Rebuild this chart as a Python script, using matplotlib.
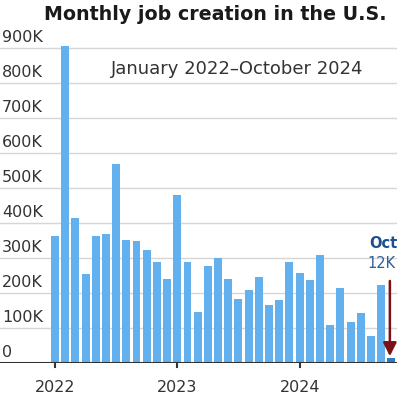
import matplotlib
matplotlib.use("Agg")
import matplotlib.pyplot as plt
from matplotlib.transforms import blended_transform_factory

# monthly job gains, Jan 2022 - Oct 2024 (thousands)
jobs_2022 = [362, 904, 412, 253, 362, 368, 566, 350, 348, 322, 288, 238]
jobs_2023 = [478, 286, 144, 277, 300, 238, 182, 208, 244, 163, 180, 288]
jobs_2024 = [255, 235, 308, 106, 214, 117, 141, 77, 221, 12]
jobs = [v * 1000 for v in jobs_2022 + jobs_2023 + jobs_2024]

year_labels = ["2022", "2023", "2024"]
year_pos = [0, 12, 24]
y_ticks = [0, 100000, 200000, 300000, 400000, 500000, 600000, 700000, 800000, 900000]
y_labels = ["0", "100K", "200K", "300K", "400K", "500K", "600K", "700K", "800K", "900K"]

title = "Monthly job creation in the U.S."
subtitle = "January 2022\u2013October 2024"

plt.rcParams["font.family"] = ["DejaVu Sans"]

W, H = 400, 396
fig = plt.figure(figsize=(W / 100, H / 100), dpi=100)
ax = fig.add_axes([0, (H - 362.5) / H, 397 / W, (362.5 - 30) / H])

x = list(range(len(jobs)))
colors = ["#63b0ee"] * (len(jobs) - 1) + ["#2d7cc4"]
ax.bar(x, jobs, width=0.78, color=colors, zorder=2)

ax.set_xlim(-5.39, 33.55)
ax.set_ylim(0, 950000)

for s in ax.spines.values():
    s.set_visible(False)
ax.set_yticks([])
ax.set_xticks([])

# gridlines + labels sitting above them
for v in y_ticks[1:]:
    ax.axhline(v, color="#d6d6d6", lw=1.0, zorder=1)
trans = blended_transform_factory(fig.transFigure, ax.transData)
for v, lab in zip(y_ticks, y_labels):
    ax.text(2 / W, v + 8000, lab, transform=trans, ha="left", va="bottom",
            fontsize=11.5, color="#333333", zorder=3)

# baseline and year ticks
ax.axhline(0, color="#333333", lw=1.5, zorder=3)
for p, lab in zip(year_pos, year_labels):
    ax.plot([p, p], [0, -14000], color="#333333", lw=1.5, clip_on=False, zorder=3)
    ax.text(p, -50000, lab, ha="center", va="top", fontsize=11.5, color="#333333")

fig.text(215 / W, 1 - 15 / H, title, ha="center", va="center",
         fontsize=13.7, fontweight="bold", color="#1a1a1a")
ax.text(237 / 397, 1 - (69 - 30) / (362.5 - 30), subtitle, transform=ax.transAxes,
        ha="center", va="center", fontsize=13, color="#333333")

# October callout
last = len(jobs) - 1
fig.text(398 / W, 1 - 243 / H, "Oct", ha="right", va="center",
         fontsize=10.5, fontweight="bold", color="#1d4f91")
fig.text(396 / W, 1 - 264 / H, "12K", ha="right", va="center",
         fontsize=10.5, color="#2b5fa0")
ax.annotate("", xy=(last - 0.15, 18000), xytext=(last - 0.15, 233000),
            arrowprops=dict(arrowstyle="-|>,head_width=0.4,head_length=0.8",
                            color="#7b1113", lw=1.8, shrinkA=0, shrinkB=0),
            zorder=4)

fig.savefig("out.png", dpi=100)
